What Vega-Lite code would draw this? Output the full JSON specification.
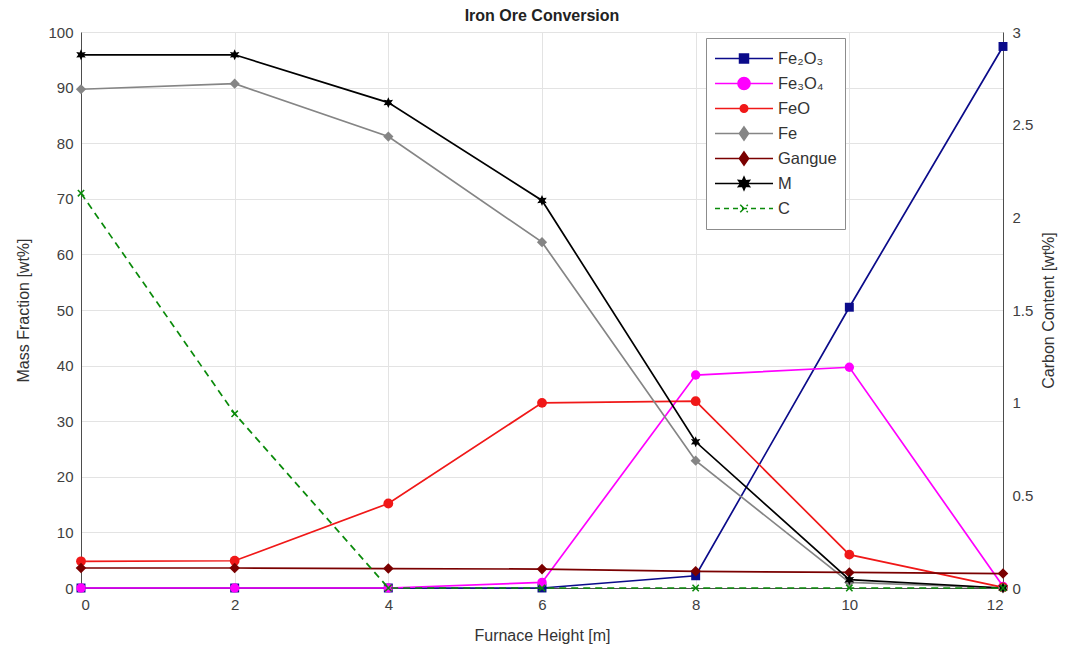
{
  "$schema": "https://vega.github.io/schema/vega-lite/v6.json",
  "width": 922,
  "height": 556,
  "autosize": "none",
  "padding": {"left": 81, "top": 32, "right": 70, "bottom": 64},
  "background": "white",
  "config": {
    "font": "Liberation Sans",
    "view": {"stroke": null},
    "axis": {
      "labelFont": "Liberation Sans",
      "titleFont": "Liberation Sans",
      "labelFontSize": 15,
      "titleFontSize": 16,
      "titleFontWeight": "normal",
      "labelColor": "#404040",
      "titleColor": "#333333",
      "domainColor": "#4d4d4d",
      "tickColor": "#4d4d4d",
      "gridColor": "#e3e3e3",
      "gridWidth": 1,
      "domainWidth": 1
    }
  },
  "title": {
    "text": "Iron Ore Conversion",
    "font": "Liberation Sans",
    "fontSize": 16,
    "fontWeight": "bold",
    "color": "#222222",
    "anchor": "middle",
    "offset": 1
  },
  "datasets": {
    "mass": [
      {"h": 0, "s": "Fe₂O₃", "v": 0},
      {"h": 2, "s": "Fe₂O₃", "v": 0},
      {"h": 4, "s": "Fe₂O₃", "v": 0},
      {"h": 6, "s": "Fe₂O₃", "v": 0},
      {"h": 8, "s": "Fe₂O₃", "v": 2.2},
      {"h": 10, "s": "Fe₂O₃", "v": 50.5},
      {"h": 12, "s": "Fe₂O₃", "v": 97.4},
      {"h": 0, "s": "Fe₃O₄", "v": 0},
      {"h": 2, "s": "Fe₃O₄", "v": 0},
      {"h": 4, "s": "Fe₃O₄", "v": 0},
      {"h": 6, "s": "Fe₃O₄", "v": 1},
      {"h": 8, "s": "Fe₃O₄", "v": 38.3},
      {"h": 10, "s": "Fe₃O₄", "v": 39.7},
      {"h": 12, "s": "Fe₃O₄", "v": 0.3},
      {"h": 0, "s": "FeO", "v": 4.8},
      {"h": 2, "s": "FeO", "v": 4.9},
      {"h": 4, "s": "FeO", "v": 15.2},
      {"h": 6, "s": "FeO", "v": 33.3},
      {"h": 8, "s": "FeO", "v": 33.6},
      {"h": 10, "s": "FeO", "v": 6},
      {"h": 12, "s": "FeO", "v": 0.1},
      {"h": 0, "s": "Fe", "v": 89.7},
      {"h": 2, "s": "Fe", "v": 90.7},
      {"h": 4, "s": "Fe", "v": 81.2},
      {"h": 6, "s": "Fe", "v": 62.2},
      {"h": 8, "s": "Fe", "v": 22.9},
      {"h": 10, "s": "Fe", "v": 1},
      {"h": 12, "s": "Fe", "v": 0},
      {"h": 0, "s": "Gangue", "v": 3.6},
      {"h": 2, "s": "Gangue", "v": 3.6},
      {"h": 4, "s": "Gangue", "v": 3.5},
      {"h": 6, "s": "Gangue", "v": 3.4},
      {"h": 8, "s": "Gangue", "v": 3.0},
      {"h": 10, "s": "Gangue", "v": 2.8},
      {"h": 12, "s": "Gangue", "v": 2.6},
      {"h": 0, "s": "M", "v": 95.9},
      {"h": 2, "s": "M", "v": 95.9},
      {"h": 4, "s": "M", "v": 87.3},
      {"h": 6, "s": "M", "v": 69.7},
      {"h": 8, "s": "M", "v": 26.3},
      {"h": 10, "s": "M", "v": 1.5},
      {"h": 12, "s": "M", "v": 0}
    ],
    "carbon": [
      {"h": 0, "s": "C", "c": 2.13},
      {"h": 2, "s": "C", "c": 0.94},
      {"h": 4, "s": "C", "c": 0},
      {"h": 6, "s": "C", "c": 0},
      {"h": 8, "s": "C", "c": 0},
      {"h": 10, "s": "C", "c": 0},
      {"h": 12, "s": "C", "c": 0}
    ]
  },
  "encoding": {
    "x": {
      "field": "h",
      "type": "quantitative",
      "scale": {"domain": [0, 12], "nice": false, "zero": false},
      "axis": {
        "title": "Furnace Height [m]",
        "values": [0, 2, 4, 6, 8, 10, 12],
        "grid": true,
        "ticks": false,
        "labelPadding": 9,
        "titlePadding": 15
      }
    },
    "color": {
      "field": "s",
      "type": "nominal",
      "scale": {
        "domain": ["Fe₂O₃", "Fe₃O₄", "FeO", "Fe", "Gangue", "M", "C"],
        "range": ["#0b0b8a", "#ff00ff", "#f01818", "#858585", "#7a0000", "#000000", "#0a8a0a"]
      },
      "legend": {
        "title": null,
        "orient": "none",
        "legendX": 625,
        "legendY": 6,
        "direction": "vertical",
        "symbolSize": 3364,
        "symbolStrokeWidth": 1.5,
        "clipHeight": 25,
        "rowPadding": 0,
        "labelOffset": 4,
        "labelFont": "Liberation Sans",
        "labelFontSize": 16.5,
        "labelColor": "#333333",
        "padding": 8,
        "strokeColor": "#8c8c8c",
        "fillColor": "white",
        "encode": {
          "symbols": {
            "update": {
              "shape": {"signal": "datum.value === 'Fe₂O₃' ? 'M-1,0L1,0M-0.155,-0.155L0.155,-0.155L0.155,0.155L-0.155,0.155Z' : datum.value === 'Fe₃O₄' ? 'M-1,0L1,0M0.21,0A0.21,0.21,0,1,1,-0.21,0A0.21,0.21,0,1,1,0.21,0Z' : datum.value === 'FeO' ? 'M-1,0L1,0M0.13,0A0.13,0.13,0,1,1,-0.13,0A0.13,0.13,0,1,1,0.13,0Z' : (datum.value === 'Fe' || datum.value === 'Gangue') ? 'M-1,0L1,0M0,-0.23L0.16,0L0,0.23L-0.16,0Z' : datum.value === 'M' ? 'M-1,0L1,0M0,-0.22L0.055,-0.095L0.19,-0.11L0.11,0L0.19,0.11L0.055,0.095L0,0.22L-0.055,0.095L-0.19,0.11L-0.11,0L-0.19,-0.11L-0.055,-0.095Z' : 'M-1,0L1,0M-0.13,-0.13L0.13,0.13M-0.13,0.13L0.13,-0.13'"},
              "fill": {"signal": "scale('color', datum.value)"},
              "stroke": {"signal": "scale('color', datum.value)"},
              "strokeWidth": {"value": 1.5},
              "strokeDash": {"signal": "datum.value === 'C' ? [5, 4] : []"},
              "opacity": {"value": 1}
            }
          }
        }
      }
    }
  },
  "layer": [
    {
      "data": {"name": "mass"},
      "encoding": {
        "y": {
          "field": "v",
          "type": "quantitative",
          "scale": {"domain": [0, 100], "nice": false},
          "axis": {
            "title": "Mass Fraction [wt%]",
            "orient": "left",
            "values": [0, 10, 20, 30, 40, 50, 60, 70, 80, 90, 100],
            "grid": true,
            "ticks": false,
            "labelPadding": 8,
            "titlePadding": 16
          }
        }
      },
      "layer": [
        {"mark": {"type": "line", "strokeWidth": 1.7}},
        {
          "mark": {"type": "point", "filled": true, "opacity": 1, "strokeWidth": 1},
          "encoding": {
            "shape": {
              "field": "s",
              "type": "nominal",
              "scale": {
                "domain": ["Fe₂O₃", "Fe₃O₄", "FeO", "Fe", "Gangue", "M"],
                "range": ["square", "circle", "circle", "diamond", "diamond", "M0,-1L0.25,-0.43L0.87,-0.5L0.5,0L0.87,0.5L0.25,0.43L0,1L-0.25,0.43L-0.87,0.5L-0.5,0L-0.87,-0.5L-0.25,-0.43Z"]
              },
              "legend": null
            },
            "size": {
              "field": "s",
              "type": "nominal",
              "scale": {
                "domain": ["Fe₂O₃", "Fe₃O₄", "FeO", "Fe", "Gangue", "M"],
                "range": [80, 120, 50, 160, 160, 190]
              },
              "legend": null
            }
          }
        }
      ]
    },
    {
      "data": {"name": "carbon"},
      "encoding": {
        "y": {
          "field": "c",
          "type": "quantitative",
          "scale": {"domain": [0, 3], "nice": false},
          "axis": {
            "title": "Carbon Content [wt%]",
            "orient": "right",
            "values": [0, 0.5, 1, 1.5, 2, 2.5, 3],
            "format": "~g",
            "grid": false,
            "ticks": false,
            "labelPadding": 9,
            "titleAngle": 270,
            "titlePadding": 24
          }
        }
      },
      "layer": [
        {"mark": {"type": "line", "strokeWidth": 1.7, "strokeDash": [7, 5]}},
        {
          "mark": {"type": "point", "filled": false, "opacity": 1, "strokeWidth": 1.5, "shape": "M-1,-1L1,1M-1,1L1,-1", "size": 40}
        }
      ]
    }
  ],
  "resolve": {"scale": {"y": "independent"}}
}
